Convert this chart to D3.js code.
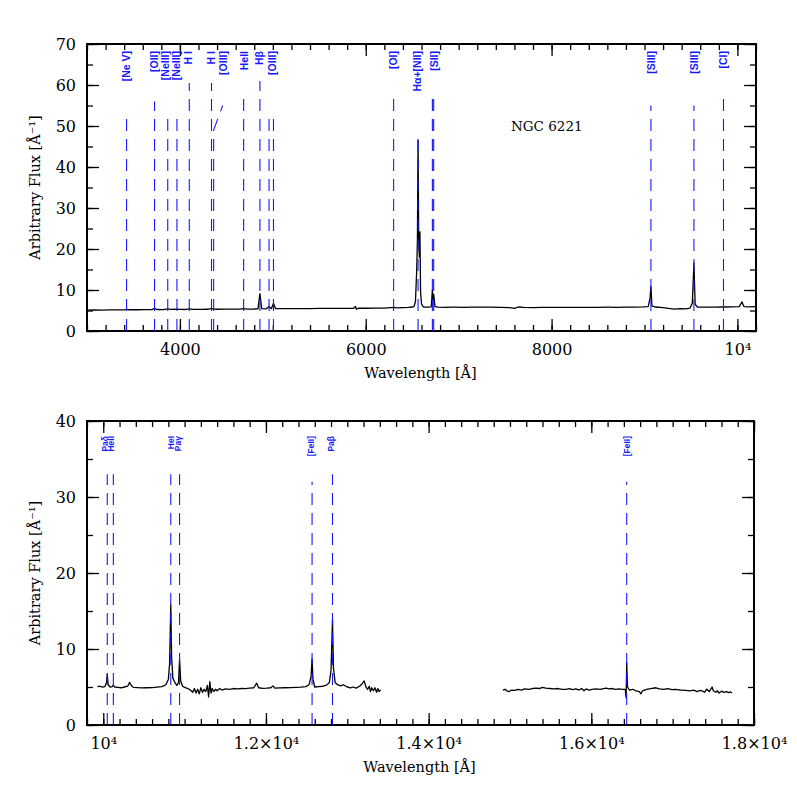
<!DOCTYPE html>
<html>
<head>
<meta charset="utf-8">
<script src="https://cdn.jsdelivr.net/npm/d3@7"></script>
<style>
    body { margin: 0; background: #fff; }
    svg { display: block; }
    .tick text { font-family: "DejaVu Serif", serif; font-size: 16px; fill: #000; }
    .lbl { font-family: "Liberation Sans", Arial, sans-serif; font-weight: bold; fill: #1818ff; }
</style>
</head>
<body>
<svg id="chart" width="797" height="797"></svg>
<script>
// ---------------- data ----------------
// optical spectrum (top panel)
var topWave = [3000, 3080, 3160, 3240, 3320, 3400, 3426, 3450, 3540, 3620, 3700, 3727, 3750, 3820, 3869, 3900, 3968, 4000,
    4060, 4101, 4140, 4220, 4300, 4340, 4363, 4400, 4480, 4560, 4640, 4686, 4720, 4800, 4840, 4861, 4880, 4930, 4959, 4985,
    5007, 5030, 5120, 5200, 5300, 5400, 5500, 5600, 5700, 5800, 5870, 5890, 5900, 5920, 6000, 6100, 6200, 6300, 6340, 6400,
    6460, 6500, 6520, 6535, 6548, 6556, 6563, 6570, 6577, 6583, 6590, 6600, 6620, 6680, 6705, 6717, 6724, 6731, 6745, 6780,
    6850, 6950, 7050, 7150, 7250, 7350, 7450, 7550, 7600, 7640, 7700, 7800, 7900, 8000, 8100, 8200, 8300, 8400, 8500, 8600,
    8700, 8800, 8900, 8980, 9040, 9060, 9069, 9080, 9120, 9200, 9260, 9320, 9380, 9440, 9490, 9515, 9532, 9545, 9570, 9650,
    9750, 9850, 9950, 10020, 10049, 10070, 10130, 10190];
var topFlux = [5.10, 5.12, 5.10, 5.14, 5.15, 5.17, 5.30, 5.18, 5.18, 5.20, 5.22, 5.55, 5.24, 5.22, 5.40, 5.25, 5.35, 5.26,
    5.25, 5.38, 5.27, 5.28, 5.30, 5.50, 5.35, 5.30, 5.32, 5.33, 5.33, 5.45, 5.35, 5.36, 5.40, 9.10, 5.45, 5.42, 6.00, 5.45,
    6.80, 5.45, 5.44, 5.46, 5.48, 5.47, 5.50, 5.50, 5.52, 5.53, 5.55, 6.00, 5.30, 5.55, 5.55, 5.57, 5.60, 5.78, 5.62, 5.68,
    5.75, 5.85, 6.00, 7.20, 14.5, 22.0, 46.5, 22.0, 18.0, 24.2, 9.5, 6.6, 5.85, 5.80, 5.90, 10.0, 7.5, 9.0, 5.95, 5.80,
    5.78, 5.80, 5.78, 5.80, 5.82, 5.80, 5.78, 5.70, 5.50, 5.85, 5.75, 5.72, 5.75, 5.74, 5.76, 5.74, 5.78, 5.75, 5.78, 5.80,
    5.78, 5.82, 5.80, 5.86, 5.95, 8.0, 10.9, 6.1, 5.85, 5.70, 5.50, 5.35, 5.45, 5.40, 5.60, 6.8, 16.6, 6.5, 5.85, 5.80,
    5.82, 5.85, 5.90, 5.95, 7.1, 5.95, 5.90, 5.95];

// near-IR spectrum (bottom panel), two pieces
var irWave1 = [9930, 9960, 9990, 10020, 10040, 10049, 10060, 10085, 10110, 10124, 10140, 10180, 10220, 10260, 10300, 10323,
    10345, 10370, 10420, 10470, 10536, 10600, 10660, 10720, 10770, 10800, 10815, 10830, 10840, 10855, 10880, 10904, 10925,
    10938, 10952, 10975, 11000, 11040, 11070, 11100, 11120, 11140, 11160, 11180, 11200, 11220, 11240, 11260, 11280, 11295,
    11310, 11325, 11340, 11360, 11380, 11400, 11430, 11460, 11500, 11550, 11600, 11650, 11700, 11750, 11800, 11850, 11886,
    11910, 11960, 12010, 12060, 12086, 12110, 12170, 12230, 12300, 12370, 12430, 12490, 12530, 12555, 12567, 12578, 12600,
    12650, 12700, 12745, 12780, 12800, 12818, 12830, 12850, 12880, 12920, 12950, 13000, 13040, 13070, 13110, 13150, 13180,
    13207, 13230, 13250, 13270, 13285, 13300, 13320, 13340, 13360, 13375, 13390, 13410];
var irFlux1 = [5.05, 5.10, 4.98, 5.05, 5.6, 6.7, 5.3, 5.0, 5.05, 5.25, 5.0, 4.95, 4.90, 5.0, 5.1, 5.6,
    5.2, 4.95, 4.92, 4.88, 4.9, 4.92, 4.98, 5.05, 5.3, 6.0, 8.0, 15.8, 9.0, 6.2, 5.6, 5.2, 5.6,
    8.6, 5.8, 5.1, 4.95, 4.8, 4.6, 4.3, 4.8, 4.2, 4.7, 4.1, 4.9, 4.3, 4.7, 4.4, 5.2, 3.7,
    5.7, 4.2, 4.8, 4.4, 4.7, 4.5, 4.8, 4.6, 4.75, 4.7, 4.8, 4.75, 4.8, 4.78, 4.85, 4.9, 5.5,
    4.9, 4.82, 4.85, 4.9, 5.15, 4.85, 4.88, 4.9, 4.92, 4.95, 4.98, 5.05, 5.3, 6.4, 8.7, 6.0, 5.0,
    5.05, 5.1, 5.25, 5.6, 7.2, 13.8, 7.5, 5.6, 5.3, 5.15, 5.3, 5.0, 4.9, 5.0, 4.85, 5.1, 5.4,
    5.8, 5.0, 4.7, 5.1, 4.4, 4.9, 4.5, 4.9, 4.3, 4.8, 4.4, 4.6];
var irWave2 = [14912, 14940, 14960, 14990, 15020, 15060, 15100, 15140, 15180, 15230, 15277, 15320, 15360, 15400, 15440,
    15490, 15540, 15590, 15640, 15689, 15730, 15770, 15810, 15850, 15880, 15910, 15935, 15970, 16010, 16060, 16110, 16150,
    16180, 16220, 16260, 16300, 16340, 16380, 16417, 16428, 16435, 16445, 16470, 16510, 16550, 16590, 16609, 16630, 16680,
    16730, 16793, 16840, 16890, 16940, 16990, 17040, 17090, 17117, 17160, 17210, 17260, 17300, 17340, 17362, 17390, 17420,
    17450, 17485, 17500, 17530, 17550, 17570, 17600, 17630, 17660, 17690, 17710, 17730];
var irFlux2 = [4.6, 4.7, 4.5, 4.4, 4.6, 4.55, 4.7, 4.6, 4.75, 4.7, 4.8, 4.85, 4.8, 4.95, 4.85,
    4.8, 4.75, 4.8, 4.7, 4.7, 4.8, 4.65, 4.75, 4.6, 4.8, 4.5, 4.75, 4.6, 4.7, 4.75, 4.7, 4.8,
    4.85, 4.75, 4.8, 4.7, 4.75, 4.7, 4.7, 3.6, 8.2, 5.0, 4.6, 4.7, 4.5, 4.4, 4.1, 4.5, 4.7,
    4.8, 4.9, 4.75, 4.7, 4.8, 4.65, 4.7, 4.6, 4.6, 4.55, 4.5, 4.6, 4.4, 4.55, 4.5, 4.3, 4.7,
    4.4, 5.0, 4.5, 4.3, 4.5, 4.2, 4.45, 4.3, 4.4, 4.25, 4.35, 4.2];

// line markers: wavelength, top of the dashed line (flux units)
var topLineWave = [3426, 3727, 3869, 3968, 4101, 4340, 4363, 4686, 4861, 4959, 5007, 6300, 6563, 6717, 6731, 9069, 9532, 9850];
var topLineTop = [52.5, 56, 52, 52, 60.5, 60.5, 49, 57.5, 61, 52, 52, 57, 47, 57, 57, 55, 55, 57];
var topLabelText = ["[Ne V]", "[OII]", "[NeIII]", "[NeIII]", "H I", "H I", "[OIII]", "HeII", "H\u03b2", "[OIII]",
    "[OI]", "H\u03b1+[NII]", "[SII]", "[SIII]", "[SIII]", "[CI]"];
var topLabelWave = [3426, 3720, 3845, 3960, 4090, 4340, 4470, 4690, 4850, 4990, 6300, 6550, 6740, 9069, 9532, 9845];
var topLeader = [[4363, 49], [4460, 55]];

var irLineWave = [10049, 10124, 10830, 10938, 12567, 12818, 16435];
var irLineTop = [33, 33, 33, 33, 32, 33, 32];
var irLabelText = ["Pa\u03b4", "HeII", "HeI", "Pa\u03b3", "[FeII]", "Pa\u03b2", "[FeII]"];
var irLabelWave = [10025, 10100, 10830, 10915, 12560, 12800, 16440];

// axes
var topXTicks = [4000, 6000, 8000, 10000];
var topXLabels = ["4000", "6000", "8000", "10\u2074"];
var topYTicks = [0, 10, 20, 30, 40, 50, 60, 70];
var irXTicks = [10000, 12000, 14000, 16000, 18000];
var irXLabels = ["10\u2074", "1.2\u00d710\u2074", "1.4\u00d710\u2074", "1.6\u00d710\u2074", "1.8\u00d710\u2074"];
var irYTicks = [0, 10, 20, 30, 40];

var svg = d3.select("#chart");

// ---------------- panels ----------------
var topPanel = drawPanel({
    left: 87, right: 756, top: 44, bottom: 331,
    xDomain: [3000, 10200], yDomain: [0, 70],
    xTicks: topXTicks, xLabels: topXLabels, xMinor: 200,
    yTicks: topYTicks, yMinor: 5,
    pieces: [[topWave, topFlux]],
    ylabel: "Arbitrary Flux [\u00c5\u207b\u00b9]"
});
drawMarkers(topPanel, topLineWave, topLineTop, topLabelText, topLabelWave, 51, 10.5);

// leader of the [OIII] 4363 label
topPanel.g.append("line")
    .attr("x1", topPanel.x(topLeader[0][0])).attr("y1", topPanel.y(topLeader[0][1]))
    .attr("x2", topPanel.x(topLeader[1][0])).attr("y2", topPanel.y(topLeader[1][1]))
    .attr("stroke", "#1818ff").attr("stroke-width", 1.1)
    .attr("stroke-dasharray", "12 8");

topPanel.g.append("text")
    .attr("x", 511).attr("y", 131)
    .attr("font-family", "DejaVu Serif, serif")
    .attr("font-size", 13.5)
    .text("NGC 6221");

var irPanel = drawPanel({
    left: 87, right: 754, top: 421, bottom: 725,
    xDomain: [9800, 18000], yDomain: [0, 40],
    xTicks: irXTicks, xLabels: irXLabels, xMinor: 200,
    yTicks: irYTicks, yMinor: 5,
    pieces: [[irWave1, irFlux1], [irWave2, irFlux2]],
    ylabel: "Arbitrary Flux  [\u00c5\u207b\u00b9]"
});
drawMarkers(irPanel, irLineWave, irLineTop, irLabelText, irLabelWave, 436, 8.5);

// ---------------- helpers ----------------
function drawPanel(c) {
    var g = svg.append("g");
    var x = d3.scaleLinear().domain(c.xDomain).range([c.left, c.right]);
    var y = d3.scaleLinear().domain(c.yDomain).range([c.bottom, c.top]);

    var xMinorVals = d3.range(c.xDomain[0], c.xDomain[1] + 1, c.xMinor);
    var yMinorVals = d3.range(c.yDomain[0], c.yDomain[1] + 0.01, c.yMinor);

    // minor ticks, all four sides
    addAxis(g, d3.axisBottom(x).tickValues(xMinorVals).tickFormat("").tickSize(-6), 0, c.bottom);
    addAxis(g, d3.axisTop(x).tickValues(xMinorVals).tickFormat("").tickSize(-6), 0, c.top);
    addAxis(g, d3.axisLeft(y).tickValues(yMinorVals).tickFormat("").tickSize(-6), c.left, 0);
    addAxis(g, d3.axisRight(y).tickValues(yMinorVals).tickFormat("").tickSize(-6), c.right, 0);

    // major ticks
    addAxis(g, d3.axisBottom(x).tickValues(c.xTicks)
        .tickFormat(function (d, i) { return c.xLabels[i]; })
        .tickSize(-12).tickPadding(13), 0, c.bottom);
    addAxis(g, d3.axisTop(x).tickValues(c.xTicks).tickFormat("").tickSize(-12), 0, c.top);
    addAxis(g, d3.axisLeft(y).tickValues(c.yTicks).tickFormat(d3.format("d"))
        .tickSize(-12).tickPadding(11), c.left, 0);
    addAxis(g, d3.axisRight(y).tickValues(c.yTicks).tickFormat("").tickSize(-12), c.right, 0);

    // spectrum
    var line = d3.line()
        .x(function (d) { return x(d[0]); })
        .y(function (d) { return y(d[1]); });
    c.pieces.forEach(function (p) {
        var pts = p[0].map(function (w, i) { return [w, p[1][i]]; });
        g.append("path")
            .datum(pts)
            .attr("d", line)
            .attr("fill", "none")
            .attr("stroke", "#000")
            .attr("stroke-width", 1.3)
            .attr("stroke-linejoin", "round");
    });

    // frame
    g.append("rect")
        .attr("x", c.left).attr("y", c.top)
        .attr("width", c.right - c.left).attr("height", c.bottom - c.top)
        .attr("fill", "none").attr("stroke", "#000").attr("stroke-width", 2);

    // axis titles
    g.append("text")
        .attr("transform", "translate(40," + ((c.top + c.bottom) / 2) + ") rotate(-90)")
        .attr("text-anchor", "middle")
        .attr("font-family", "DejaVu Serif, serif")
        .attr("font-size", 14.5)
        .text(c.ylabel);
    g.append("text")
        .attr("x", (c.left + c.right) / 2 - 1).attr("y", c.bottom + 47)
        .attr("text-anchor", "middle")
        .attr("font-family", "DejaVu Serif, serif")
        .attr("font-size", 14.5)
        .text("Wavelength [\u00c5]");

    return { g: g, x: x, y: y, c: c };
}

function addAxis(g, axis, tx, ty) {
    var a = g.append("g")
        .attr("transform", "translate(" + tx + "," + ty + ")")
        .call(axis);
    a.select(".domain").remove();
    a.selectAll(".tick line").attr("stroke", "#000").attr("stroke-width", 1.3);
    return a;
}

function drawMarkers(p, waves, tops, texts, labelWaves, labelTop, fs) {
    var y0 = p.c.bottom;
    p.g.append("g").selectAll("line")
        .data(waves)
        .enter()
        .append("line")
        .attr("x1", function (d) { return p.x(d); })
        .attr("x2", function (d) { return p.x(d); })
        .attr("y1", y0)
        .attr("y2", function (d, i) { return p.y(tops[i]); })
        .attr("stroke", "#1818ff")
        .attr("stroke-width", 1.1)
        .attr("stroke-dasharray", "12 8");

    p.g.append("g").selectAll("text")
        .data(texts)
        .enter()
        .append("text")
        .attr("class", "lbl")
        .attr("font-size", fs)
        .attr("text-anchor", "end")
        .attr("dy", "0.35em")
        .attr("transform", function (d, i) {
            return "translate(" + p.x(labelWaves[i]) + "," + labelTop + ") rotate(-90)";
        })
        .text(function (d) { return d; });
}
</script>
</body>
</html>
